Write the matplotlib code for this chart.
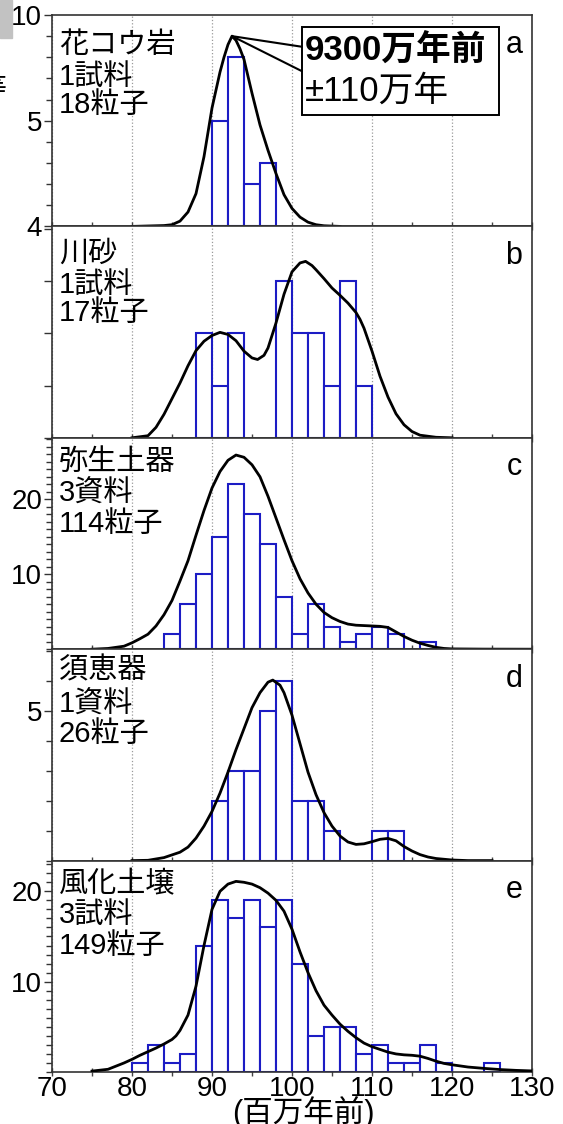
import matplotlib
matplotlib.use('Agg')
import matplotlib.pyplot as plt
from matplotlib.ticker import MultipleLocator, NullLocator
from matplotlib.patches import Rectangle

plt.rcParams['font.family'] = ['Liberation Sans', 'Noto Sans CJK JP']

# ---- data ----
panel_ids = ['a', 'b', 'c', 'd', 'e']
sample_names = ['花コウ岩', '川砂', '弥生土器', '須恵器', '風化土壌']
sample_counts = ['1試料', '1試料', '3資料', '1資料', '3試料']
grain_counts = ['18粒子', '17粒子', '114粒子', '26粒子', '149粒子']

# histogram bins (left edge, 2 Myr wide) and counts
bins_a = [90, 92, 94, 96]
cnt_a = [5, 8, 2, 3]
bins_b = [88, 90, 92, 98, 100, 102, 104, 106, 108]
cnt_b = [2, 1, 2, 3, 2, 2, 1, 3, 1]
bins_c = [84, 86, 88, 90, 92, 94, 96, 98, 100, 102, 104, 106, 108, 110, 112, 116]
cnt_c = [2, 6, 10, 15, 22, 18, 14, 7, 2, 6, 3, 1, 2, 3, 2, 1]
bins_d = [90, 92, 94, 96, 98, 100, 102, 104, 110, 112]
cnt_d = [2, 3, 3, 5, 6, 2, 2, 1, 1, 1]
bins_e = [80, 82, 84, 86, 88, 90, 92, 94, 96, 98, 100, 102, 104, 106, 108,
          110, 112, 114, 116, 118, 124]
cnt_e = [1, 3, 1, 2, 14, 19, 17, 19, 16, 19, 12, 4, 5, 5, 2, 3, 1, 1, 3, 1, 1]

# probability density curves
kde_a_x = [80, 82, 84, 85, 86, 87, 88, 89, 90, 91, 91.5, 92, 92.5, 93, 93.5, 94,
           95, 96, 97, 98, 99, 100, 101, 102, 103, 104, 106]
kde_a_y = [0, 0.02, 0.04, 0.08, 0.25, 0.68, 1.55, 3.3, 5.6, 7.3, 8.0, 8.6, 9.0,
           8.8, 8.4, 7.9, 6.3, 4.8, 3.6, 2.5, 1.5, 0.85, 0.44, 0.2, 0.08, 0.03, 0]
kde_b_x = [80, 82, 83, 84, 85, 86, 87, 88, 89, 90, 91, 92, 93, 94, 95, 95.7, 96.5,
           97, 98, 99, 100, 101, 101.7, 102.5, 103, 104, 105, 106, 107, 108, 108.5,
           109, 110, 111, 112, 113, 114, 115, 116, 118, 120]
kde_b_y = [0, 0.04, 0.2, 0.45, 0.75, 1.05, 1.38, 1.67, 1.85, 1.96, 2.02, 1.98, 1.86,
           1.66, 1.53, 1.5, 1.58, 1.72, 2.2, 2.75, 3.18, 3.35, 3.38, 3.3, 3.22, 3.05,
           2.87, 2.73, 2.58, 2.4, 2.27, 2.1, 1.66, 1.18, 0.78, 0.46, 0.25, 0.12, 0.05,
           0.01, 0]
kde_c_x = [75, 77, 79, 80, 81, 82, 83, 84, 85, 86, 87, 88, 89, 90, 91, 92, 93, 94,
           95, 96, 97, 98, 99, 100, 101, 102, 103, 104, 105, 106, 107, 108, 109, 110,
           111, 112, 113, 114, 115, 116, 117, 118, 119, 120, 124, 130]
kde_c_y = [0, 0.1, 0.4, 0.85, 1.4, 2.0, 3.1, 4.6, 6.5, 9.1, 11.8, 15.2, 18.5, 21.5,
           23.7, 25.2, 25.9, 25.6, 24.6, 23.0, 20.4, 17.5, 14.6, 11.8, 9.4, 7.5, 6.0,
           4.9, 4.2, 3.7, 3.35, 3.2, 3.15, 3.1, 3.05, 2.9, 2.3, 1.7, 1.2, 0.8, 0.5,
           0.25, 0.1, 0.04, 0.01, 0]
kde_d_x = [80, 82, 84, 86, 87, 88, 89, 90, 91, 92, 93, 94, 95, 96, 97, 97.6, 98.5,
           99, 100, 101, 102, 103, 104, 105, 106, 107, 108, 109, 110, 111, 112, 113,
           114, 115, 116, 117, 118, 120, 122, 125]
kde_d_y = [0, 0.01, 0.1, 0.28, 0.45, 0.75, 1.15, 1.64, 2.25, 2.95, 3.7, 4.4, 5.1,
           5.6, 5.95, 6.02, 5.85, 5.6, 4.85, 3.9, 2.95, 2.2, 1.6, 1.15, 0.82, 0.62,
           0.54, 0.56, 0.63, 0.71, 0.74, 0.66, 0.47, 0.32, 0.2, 0.12, 0.07, 0.02, 0, 0]
kde_e_x = [75, 77, 79, 80, 81, 82, 83, 84, 85, 85.5, 86, 87, 88, 89, 90, 91, 92, 93,
           94, 95, 96, 97, 98, 99, 100, 101, 102, 103, 104, 105, 106, 107, 108, 109,
           110, 111, 112, 113, 114, 115, 116, 117, 118, 119, 120, 122, 124, 126, 128,
           130]
kde_e_y = [0.1, 0.3, 1.0, 1.4, 1.85, 2.25, 2.65, 3.1, 3.6, 4.0, 4.6, 6.3, 9.5, 14.0,
           18.0, 20.0, 20.8, 21.1, 21.0, 20.8, 20.4, 19.8, 19.0, 17.8, 15.8, 13.3,
           11.0, 9.0, 7.4, 6.3, 5.3, 4.5, 3.8, 3.2, 2.8, 2.5, 2.2, 2.0, 1.9, 1.85,
           1.75, 1.5, 1.2, 0.95, 0.8, 0.55, 0.4, 0.27, 0.18, 0.12]

all_bins = [bins_a, bins_b, bins_c, bins_d, bins_e]
all_cnts = [cnt_a, cnt_b, cnt_c, cnt_d, cnt_e]
all_kx = [kde_a_x, kde_b_x, kde_c_x, kde_d_x, kde_e_x]
all_ky = [kde_a_y, kde_b_y, kde_c_y, kde_d_y, kde_e_y]

y_max = [10, 4.05, 28.2, 7.05, 23.4]
y_ticks = [[0, 5, 10], [0, 1, 2, 3, 4], [10, 20], [5], [10, 20]]
y_ticklabels = [['4', '5', '10'], ['', '', '', '', ''], ['10', '20'], ['5'], ['10', '20']]
y_minor = [1, None, 1, 1, 1]

age_text = '9300万年前'
err_text = '±110万年'
x_ticks = [70, 80, 90, 100, 110, 120, 130]

# layout: vertical position (axes fraction) of the three label lines per panel
label_rows = [(0.86, 0.705, 0.575), (0.87, 0.725, 0.59), (0.885, 0.737, 0.592),
              (0.9, 0.735, 0.6), (0.89, 0.743, 0.596)]

BLUE = '#1c1cc4'
W_PX, H_PX = 563, 1124

fig = plt.figure(figsize=(W_PX / 100, H_PX / 100), dpi=100)

left_px, right_px = 52, 532
top_px, bot_px = 15, 1072
ph = (bot_px - top_px) / 5

axes = []
for i in range(5):
    t = top_px + i * ph
    ax = fig.add_axes([left_px / W_PX, 1 - (t + ph) / H_PX,
                       (right_px - left_px) / W_PX, ph / H_PX])
    axes.append(ax)

    ax.bar(all_bins[i], all_cnts[i], width=2, align='edge', color='white',
           edgecolor=BLUE, linewidth=1.5, zorder=2)
    ax.plot(all_kx[i], all_ky[i], color='black', lw=2.0, zorder=3)

    ax.set_xlim(70, 130)
    ax.set_ylim(0, y_max[i])
    ax.xaxis.set_major_locator(MultipleLocator(10))
    ax.xaxis.set_minor_locator(MultipleLocator(5))
    ax.grid(axis='x', which='major', ls=':', color='#9a9a9a', lw=0.9, zorder=0)

    ax.set_yticks(y_ticks[i])
    ax.set_yticklabels(y_ticklabels[i])
    if y_minor[i]:
        ax.yaxis.set_minor_locator(MultipleLocator(y_minor[i]))
    else:
        ax.yaxis.set_minor_locator(NullLocator())

    ax.tick_params(axis='y', which='major', direction='out', length=6, width=1,
                   labelsize=20, pad=1, color='#333333')
    ax.tick_params(axis='y', which='minor', direction='out', length=4, width=1,
                   color='#333333')
    ax.tick_params(axis='x', which='both', direction='inout', length=6, width=1,
                   color='#444444', labelsize=20, pad=0,
                   labelbottom=(i == 4))
    for s in ax.spines.values():
        s.set_color('#333333')
        s.set_linewidth(1.2)

    r1, r2, r3 = label_rows[i]
    ax.text(0.014, r1, sample_names[i], transform=ax.transAxes, fontsize=21,
            ha='left', va='center')
    ax.text(0.014, r2, sample_counts[i], transform=ax.transAxes, fontsize=21,
            ha='left', va='center')
    ax.text(0.014, r3, grain_counts[i], transform=ax.transAxes, fontsize=21,
            ha='left', va='center')
    ax.text(0.98, 0.86, panel_ids[i], transform=ax.transAxes, fontsize=22,
            ha='right', va='center')

# annotation in panel a
ax = axes[0]
pk = kde_a_y.index(max(kde_a_y))
peak = (kde_a_x[pk], kde_a_y[pk])
ax.add_patch(Rectangle((0.52, 0.525), 0.412, 0.42, transform=ax.transAxes,
                       fill=True, facecolor='white', edgecolor='black', lw=1.4, zorder=4))
ax.text(0.527, 0.83, age_text, transform=ax.transAxes, fontsize=25,
        fontweight='bold', ha='left', va='center', zorder=5)
ax.text(0.527, 0.64, err_text, transform=ax.transAxes, fontsize=25,
        ha='left', va='center', zorder=5)
for yf in (0.85, 0.735):
    ax.annotate('', xy=peak, xycoords='data', xytext=(0.52, yf),
                textcoords='axes fraction',
                arrowprops=dict(arrowstyle='-', lw=1.5, color='black',
                                shrinkA=0, shrinkB=0), zorder=4)

axes[4].set_xticks(x_ticks)
fig.text(303 / W_PX, 1 - 1113 / H_PX, '(百万年前)', ha='center', va='center',
         fontsize=22)

# cropped remnants at the top-left corner of the source image
fig.patches.append(Rectangle((0, 1 - 38 / H_PX), 12 / W_PX, 38 / H_PX,
                             transform=fig.transFigure, color='#c2c2c2'))
fig.text(6 / W_PX, 1 - 90 / H_PX, '等', ha='right', va='center', fontsize=20)

fig.savefig('out.png', dpi=100)
